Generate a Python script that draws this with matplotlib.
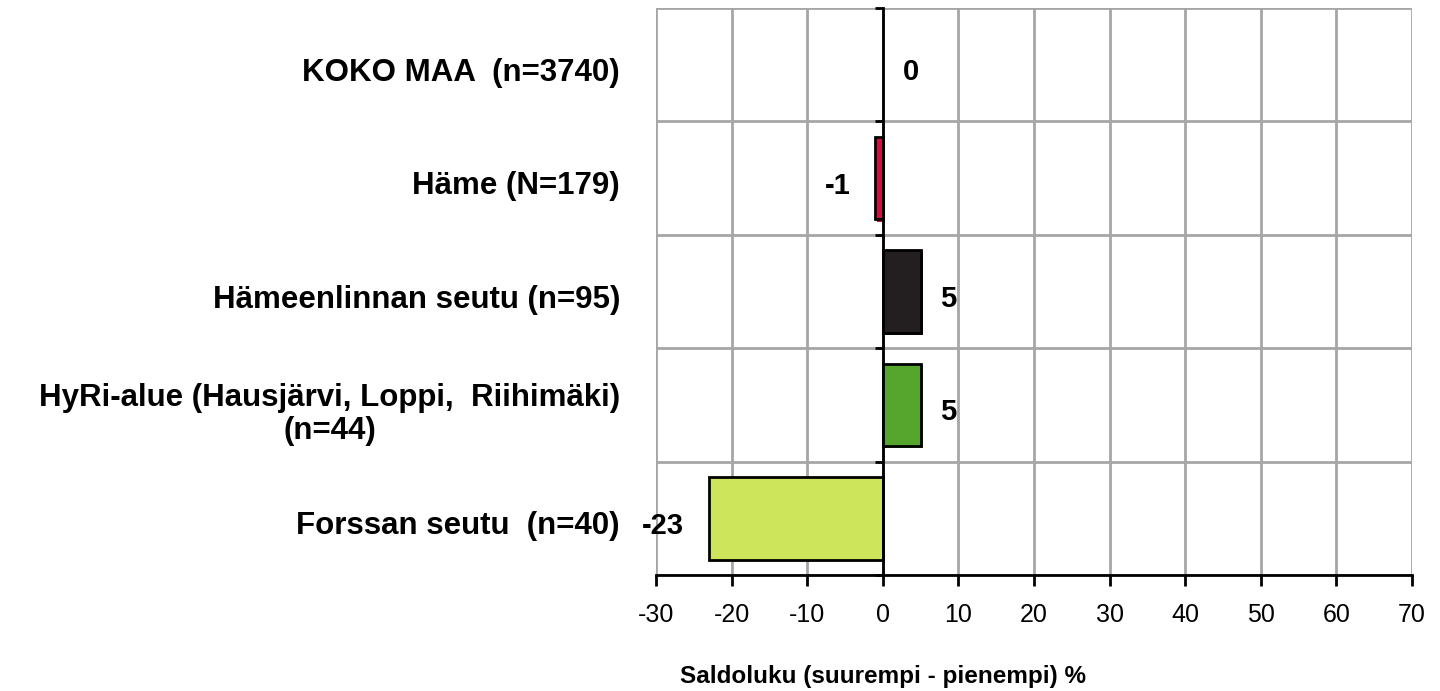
import matplotlib
matplotlib.use("Agg")
import matplotlib.pyplot as plt
import matplotlib.transforms as mtransforms
import matplotlib.patheffects as pe
from matplotlib import font_manager

plt.rcParams['font.family'] = ['Liberation Sans', 'DejaVu Sans']

names = {f.name for f in font_manager.fontManager.ttflist}
narrow = 'Liberation Sans Narrow' if 'Liberation Sans Narrow' in names else 'Liberation Sans'

categories = ["KOKO MAA  (n=3740)", "Häme (N=179)", "Hämeenlinnan seutu (n=95)",
              "HyRi-alue (Hausjärvi, Loppi,  Riihimäki)\n(n=44)", "Forssan seutu  (n=40)"]
values = [0, -1, 5, 5, -23]
colors = ["#FFFFFF", "#CC1242", "#231F20", "#56A62D", "#CDE55A"]
xticks = [-30, -20, -10, 0, 10, 20, 30, 40, 50, 60, 70]
xlabel = "Saldoluku (suurempi - pienempi) %"

fig = plt.figure(figsize=(14.4, 6.91), dpi=100)
ax = fig.add_axes([656/1440, 1-575/691, 756/1440, 567/691])

ypos = list(range(len(categories)))
for y, v, c in zip(ypos, values, colors):
    if v == 0:
        continue
    bars = ax.barh(y, v, height=0.73, color=c, edgecolor="black", linewidth=2, zorder=3)
    for b in bars:
        b.set_path_effects([pe.SimplePatchShadow(offset=(1.5, -1.5), shadow_rgbFace=c, alpha=1.0),
                            pe.Normal()])

dy = 0.04
for y, v in zip(ypos, values):
    if v >= 0:
        ax.text(v + 2.6, y + dy, f"{v}", ha="left", va="center_baseline", fontsize=21, fontweight="bold", zorder=4)
    else:
        ax.text(v - 3.3, y + dy, f"{v}", ha="right", va="center_baseline", fontsize=21, fontweight="bold", zorder=4)

ax.set_xlim(-30, 70)
ax.set_ylim(len(categories) - 0.5, -0.5)
ax.set_xticks(xticks)
ax.set_xticklabels([str(t) for t in xticks], fontsize=18, family=[narrow, 'DejaVu Sans'])
ax.set_yticks([i - 0.5 for i in range(len(categories) + 1)])
ax.set_yticklabels([])
ax.grid(True, color="#A6A6A6", linewidth=2, zorder=0)
ax.set_axisbelow(True)

ax.spines['left'].set_position(('data', 0))
ax.spines['left'].set_linewidth(2)
ax.spines['left'].set_zorder(5)
ax.spines['bottom'].set_linewidth(2)
ax.spines['top'].set_visible(False)
ax.spines['right'].set_visible(False)
ax.tick_params(axis='y', direction='out', length=6, width=2)
ax.tick_params(axis='x', direction='out', length=8, width=2, pad=12)

trans = mtransforms.blended_transform_factory(ax.transAxes, ax.transData)
for y, lab in zip(ypos, categories):
    ax.text(-36/756, y + dy, lab, transform=trans, ha="right", va="center_baseline",
            multialignment="center", fontsize=22.5, fontweight="bold", linespacing=1.15)

ax.set_xlabel(xlabel, fontsize=17.5, fontweight="bold")
ax.xaxis.set_label_coords(0.3, -0.158)

fig.savefig("out.png", dpi=100)
